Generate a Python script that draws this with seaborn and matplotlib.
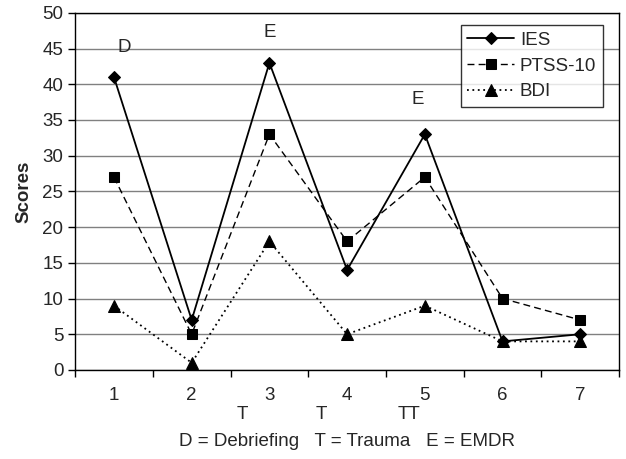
import matplotlib.pyplot as plt
import pandas as pd
import seaborn as sns

sessions = [1, 2, 3, 4, 5, 6, 7]
ies = [41, 7, 43, 14, 33, 4, 5]
ptss10 = [27, 5, 33, 18, 27, 10, 7]
bdi = [9, 1, 18, 5, 9, 4, 4]

df = pd.DataFrame({
    'Session': sessions * 3,
    'Score': ies + ptss10 + bdi,
    'Measure': ['IES'] * 7 + ['PTSS-10'] * 7 + ['BDI'] * 7,
})

sns.set_theme(style="white")
plt.rcParams['font.family'] = ['Liberation Sans', 'DejaVu Sans']
fs = 13.5

fig = plt.figure(figsize=(6.26, 4.59), dpi=100)
ax = fig.add_axes([0.12, 0.194, 0.869, 0.778])

styles = {
    'IES': dict(linestyle='-', marker='D', markersize=6.5, linewidth=1.3),
    'PTSS-10': dict(linestyle=(0, (5, 3)), marker='s', markersize=7.5, linewidth=1.0),
    'BDI': dict(linestyle=(0, (1, 2)), marker='^', markersize=8, linewidth=1.3),
}
for name, st in styles.items():
    sns.lineplot(data=df[df['Measure'] == name], x='Session', y='Score',
                 color='black', label=name, ax=ax, markeredgecolor='black', **st)

ax.set_xlim(0.5, 7.5)
ax.set_ylim(0, 50)
ax.set_yticks(range(0, 51, 5))
ax.set_xticks(sessions)
ax.set_xticks([x + 0.5 for x in range(0, 8)], minor=True)
ax.tick_params(axis='x', which='major', length=0, pad=12, labelsize=fs)
ax.tick_params(axis='x', which='minor', length=5, width=1, direction='out', bottom=True, color='black')
ax.tick_params(axis='y', length=5, width=1, direction='out', left=True, labelsize=fs, color='black')
ax.grid(axis='y', color='#808080', linewidth=1)
ax.set_axisbelow(True)
for sp in ax.spines.values():
    sp.set_color('black')
    sp.set_linewidth(1)

ax.set_xlabel('')
ax.set_ylabel('Scores', fontsize=fs, fontweight='bold', labelpad=7)

# event markers above the points
ax.text(1.13, 45.1, 'D', fontsize=fs, ha='center', va='center')
ax.text(3.0, 47.3, 'E', fontsize=fs, ha='center', va='center')
ax.text(4.91, 37.8, 'E', fontsize=fs, ha='center', va='center')
# trauma markers below the axis
for xp, s in [(2.65, 'T'), (3.67, 'T'), (4.79, 'TT')]:
    ax.text(xp, -6.2, s, fontsize=fs, ha='center', va='center')
ax.text(0.5, -0.2, 'D = Debriefing   T = Trauma   E = EMDR', fontsize=fs,
        ha='center', va='center', transform=ax.transAxes)

leg = ax.legend(loc='upper right', bbox_to_anchor=(0.97, 0.965), fontsize=fs,
                frameon=True, fancybox=False, edgecolor='black', handlelength=2.5,
                borderpad=0.35, labelspacing=0.45, handletextpad=0.3, borderaxespad=0)
leg.get_frame().set_linewidth(1)

fig.savefig('out.png', dpi=100)
